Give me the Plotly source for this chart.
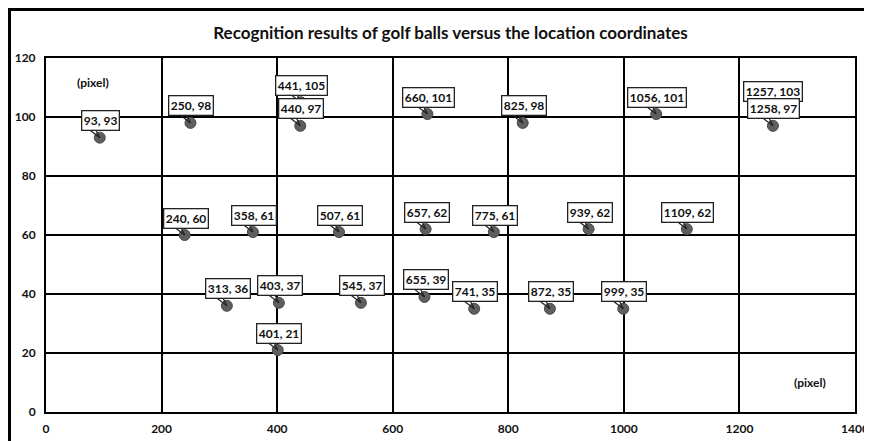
import plotly.graph_objects as go

# Data: recognized golf ball location coordinates (pixel)
x_vals = [93, 250, 441, 440, 660, 825, 1056, 1257, 1258,
          240, 358, 507, 657, 775, 939, 1109,
          313, 403, 545, 655, 741, 872, 999, 401]
y_vals = [93, 98, 105, 97, 101, 98, 101, 103, 97,
          60, 61, 61, 62, 61, 62, 62,
          36, 37, 37, 39, 35, 35, 35, 21]
labels = [f"{x}, {y}" for x, y in zip(x_vals, y_vals)]

x_ticks = [0, 200, 400, 600, 800, 1000, 1200, 1400]
y_ticks = [0, 20, 40, 60, 80, 100, 120]

FONT = "Lato"
W, H = 864, 433  # page body has an 8px default margin

fig = go.Figure()
fig.add_trace(go.Scatter(
    x=x_vals, y=y_vals, mode="markers",
    marker=dict(size=11, color="#5f5f5f", line=dict(color="#4a4a4a", width=1)),
    showlegend=False, hoverinfo="x+y",
))

annotations = []
# callout pointers (two lines forming the wedge outline)
for x, y in zip(x_vals, y_vals):
    for ax in (-13, -5):
        annotations.append(dict(
            x=x, y=y, xref="x", yref="y", text="", showarrow=True,
            ax=ax, ay=-10, arrowhead=0, arrowwidth=1.2, arrowcolor="#222222",
            standoff=0, startstandoff=0,
        ))
# callout boxes
for x, y, t in zip(x_vals, y_vals, labels):
    annotations.append(dict(
        x=x, y=y, xref="x", yref="y", text=f"<b>{t}</b>", showarrow=False,
        yshift=17, xshift=1,
        font=dict(family=FONT, size=12, color="#111111"),
        bgcolor="white", bordercolor="#222222", borderwidth=1.3, borderpad=1.5,
    ))
# axis unit labels
annotations.append(dict(x=0.036, y=0.958, xref="paper", yref="paper", text="<b>(pixel)</b>",
                        showarrow=False, font=dict(family=FONT, size=12, color="#111111")))
annotations.append(dict(x=0.967, y=0.056, xref="paper", yref="paper", text="<b>(pixel)</b>",
                        showarrow=False, font=dict(family=FONT, size=12, color="#111111")))

axis_common = dict(
    showgrid=True, gridcolor="black", gridwidth=2,
    showline=True, linecolor="black", linewidth=2, mirror=True,
    zeroline=False, ticks="", automargin=False,
    tickfont=dict(family=FONT, size=12, color="#111111", weight="bold"),
)

fig.update_layout(
    width=W, height=H,
    margin=dict(l=38, r=17, t=50, b=29, autoexpand=False),
    paper_bgcolor="white", plot_bgcolor="white",
    title=dict(text="<b>Recognition results of golf balls versus the location coordinates</b>",
               x=0.5, xref="paper", y=1 - 25 / H, yanchor="middle", automargin=False,
               font=dict(family=FONT, size=17, color="#111111")),
    xaxis=dict(range=[0, 1400], tickvals=x_ticks, ticktext=[str(v) for v in x_ticks],
               ticklabelstandoff=5, **axis_common),
    yaxis=dict(range=[0, 120], tickvals=y_ticks, ticktext=[str(v) for v in y_ticks],
               ticklabelstandoff=6, **axis_common),
    annotations=annotations,
    shapes=[dict(type="rect", xref="paper", yref="paper",
                 x0=-0.0451, y0=-0.3, x1=1.2, y1=1.137,
                 line=dict(color="black", width=3), layer="above")],
)

fig.write_html("out.html")
